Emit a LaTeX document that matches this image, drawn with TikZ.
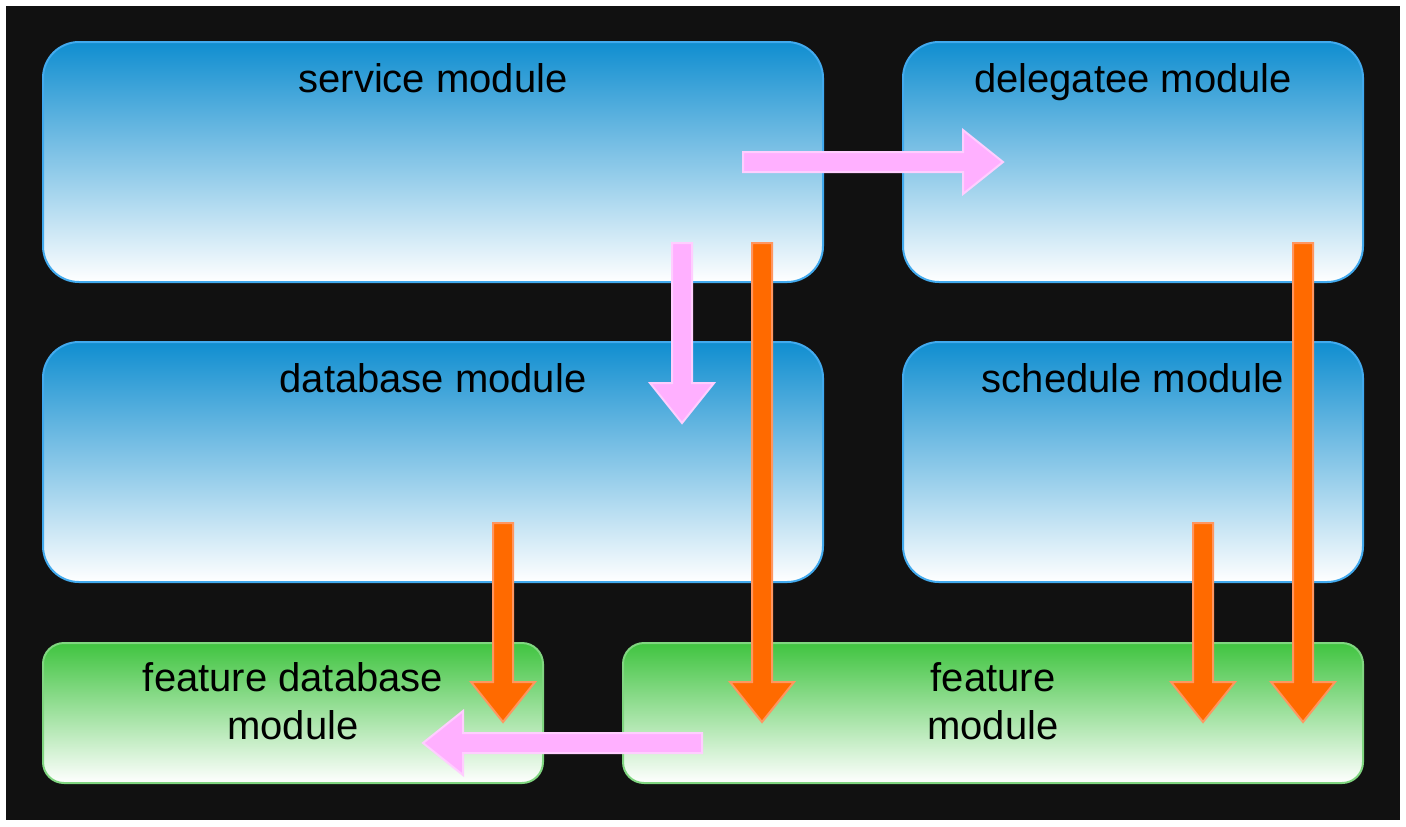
\documentclass[tikz,border=0pt]{standalone}
\usepackage{fontspec}
\setmainfont{Liberation Sans}
\usepackage{tikz}
\usetikzlibrary{positioning,calc}
\definecolor{bgdark}{RGB}{17,17,17}
\definecolor{modblue}{RGB}{16,142,208}
\definecolor{modblueline}{RGB}{66,170,238}
\definecolor{featgreen}{RGB}{64,196,64}
\definecolor{featgreenline}{RGB}{128,214,128}
\definecolor{callpink}{RGB}{255,176,255}
\definecolor{callpinkline}{RGB}{255,206,255}
\definecolor{deporange}{RGB}{255,106,0}
\definecolor{deporangeline}{RGB}{255,150,96}

% fat block arrow from #2 to #3
\newcommand{\fatarrow}[3]{%
    \path ($(#3)!20pt!(#2)$) coordinate (fahead);
    \draw[#1] ($(#2)!5pt!90:(#3)$) -- ($(fahead)!5pt!90:(#3)$) -- ($(fahead)!16pt!90:(#3)$) -- (#3)
        -- ($(fahead)!16pt!-90:(#3)$) -- ($(fahead)!5pt!-90:(#3)$) -- ($(#2)!5pt!-90:(#3)$) -- cycle;
}

\tikzset{
    modbox/.style={draw=modblueline, line width=1pt, top color=modblue, bottom color=white,
        rounded corners=18pt, minimum height=120pt, inner sep=0pt},
    featbox/.style={draw=featgreenline, line width=1pt, top color=featgreen, bottom color=white,
        rounded corners=10.5pt, minimum height=70pt, inner sep=0pt},
    modtext/.style={font=\fontsize{20}{24}\selectfont, align=center, anchor=base},
    usearrow/.style={fill=callpink, draw=callpinkline, line width=1pt, line join=miter},
    deparrow/.style={fill=deporange, draw=deporangeline, line width=1pt, line join=miter},
}

\begin{document}
\begin{tikzpicture}[x=0.5pt, y=-0.5pt]
    % Background
    \fill[white] (0,0) rectangle (1406,826);
    \fill[bgdark] (6,6) rectangle (1400,820);

    % Modules
    \node[modbox, minimum width=390pt] (service) at (433,162) {};
    \node[modbox, minimum width=230pt] (delegatee) at (1133,162) {};
    \node[modbox, minimum width=390pt] (database) at (433,462) {};
    \node[modbox, minimum width=230pt] (schedule) at (1133,462) {};
    \node[featbox, minimum width=250pt] (featdb) at (293,713) {};
    \node[featbox, minimum width=370pt] (feature) at (993,713) {};

    % Labels (base = last line)
    \node[modtext] (servicelbl) at ([yshift=-25.5pt]service.north) {service module};
    \node[modtext] (delegateelbl) at ([yshift=-25.5pt]delegatee.north) {delegatee module};
    \node[modtext] (databaselbl) at ([yshift=-25.5pt]database.north) {database module};
    \node[modtext] (schedulelbl) at ([yshift=-25.5pt]schedule.north) {schedule module};
    \node[modtext] (featdblbl) at ([yshift=-48.5pt]featdb.north) {feature database\\module};
    \node[modtext] (featurelbl) at ([yshift=-48.5pt]feature.north) {feature\\module};

    % Arrow ends
    \coordinate (svc2del-a) at (743,162);
    \coordinate (svc2del-b) at (1003,162);
    \coordinate (svc2db-a) at (682,243);
    \coordinate (svc2db-b) at (682,423);
    \coordinate (svc2feat-a) at (762,243);
    \coordinate (svc2feat-b) at (762,722);
    \coordinate (db2fdb-a) at (503,523);
    \coordinate (db2fdb-b) at (503,722);
    \coordinate (sch2feat-a) at (1203,523);
    \coordinate (sch2feat-b) at (1203,722);
    \coordinate (del2feat-a) at (1303,243);
    \coordinate (del2feat-b) at (1303,722);
    \coordinate (feat2fdb-a) at (702,743);
    \coordinate (feat2fdb-b) at (423,743);

    % Arrows
    \fatarrow{usearrow}{svc2del-a}{svc2del-b}
    \fatarrow{usearrow}{svc2db-a}{svc2db-b}
    \fatarrow{deparrow}{svc2feat-a}{svc2feat-b}
    \fatarrow{deparrow}{db2fdb-a}{db2fdb-b}
    \fatarrow{deparrow}{sch2feat-a}{sch2feat-b}
    \fatarrow{deparrow}{del2feat-a}{del2feat-b}
    \fatarrow{usearrow}{feat2fdb-a}{feat2fdb-b}

\end{tikzpicture}
\end{document}
